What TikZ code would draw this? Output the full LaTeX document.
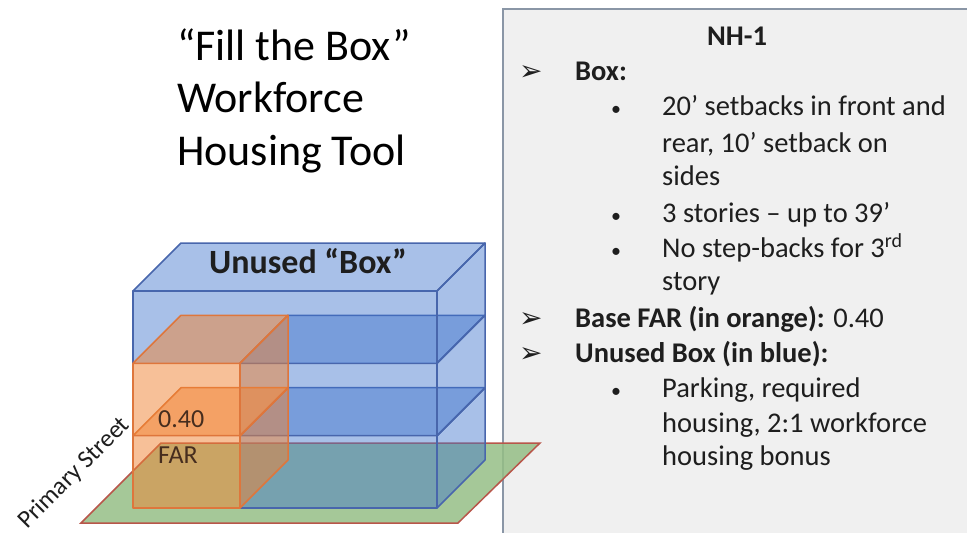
\documentclass[tikz,border=0pt]{standalone}
\usepackage{fontspec}
\setmainfont{Carlito}
\newfontfamily\arrowfont{DejaVu Sans}

\definecolor{boxblue}{RGB}{62,115,204}
\definecolor{boxblueline}{RGB}{72,102,172}
\definecolor{farorange}{RGB}{240,130,50}
\definecolor{faroline}{RGB}{222,118,60}
\definecolor{lotgreen}{RGB}{149,190,134}
\definecolor{lotline}{RGB}{184,86,74}
\definecolor{panelgrey}{RGB}{240,240,240}
\definecolor{panelline}{RGB}{138,150,166}
\definecolor{inkgrey}{RGB}{30,30,30}
\definecolor{farink}{RGB}{70,45,30}

% один этаж: x слева, x справа, низ, верх, стиль
\newcommand{\floorbox}[5]{%
  \draw[#5] (#1,#3) rectangle (#2,#4);
  \draw[#5] (#1,#4) -- ++(48,-48) -- ++(#2-#1,0) -- (#2,#4) -- cycle;
  \draw[#5] (#2,#4) -- ++(48,-48) -- ++(0,#3-#4) -- (#2,#3) -- cycle;
}

\begin{document}
\begin{tikzpicture}[x=1pt,y=-1pt,
    bluebox/.style={fill=boxblue, fill opacity=0.45, draw=boxblueline, line width=1.5pt, line join=round},
    farbox/.style={fill=farorange, fill opacity=0.5, draw=faroline, line width=1.5pt, line join=round},
    lot/.style={fill=lotgreen, fill opacity=0.85, draw=lotline, line width=1.5pt},
    title/.style={font=\fontsize{44}{53}\selectfont, text=black, inner sep=0pt, anchor=base west},
    panel/.style={font=\fontsize{28.5}{33}\selectfont, text=inkgrey, inner sep=0pt, anchor=base west},
    panelbold/.style={panel, font=\bfseries\fontsize{28.5}{33}\selectfont},
    dot/.style={font=\fontsize{20}{24}\selectfont, text=inkgrey, inner sep=0pt, anchor=base west},
    pointer/.style={font=\arrowfont\fontsize{28}{32}\selectfont, text=inkgrey, inner sep=0pt, anchor=base west},
    farlabel/.style={font=\fontsize{26}{30}\selectfont, text=farink, inner sep=0pt, anchor=base west}]

    \useasboundingbox (0,0) rectangle (967,533);

    % Заголовок
    \node[title] (title1) at (177,60) {“Fill the Box”};
    \node[title] (title2) at (177,112) {Workforce};
    \node[title] (title3) at (177,165) {Housing Tool};

    % Панель справа
    \filldraw[fill=panelgrey, draw=panelline, line width=1.5pt] (503,9) rectangle (980,545);

    % Участок и объём
    \filldraw[lot] (81,523) -- (458,523) -- (540,443) -- (161,443) -- cycle;
    \floorbox{240}{437}{508}{435.7}{bluebox}
    \floorbox{240}{437}{435.7}{363.3}{bluebox}
    \floorbox{133}{437}{363.3}{291}{bluebox}
    \floorbox{133}{240}{508}{435.7}{farbox}
    \floorbox{133}{240}{435.7}{363.3}{farbox}

    \node[font=\bfseries\fontsize{34}{38}\selectfont, text=inkgrey, inner sep=0pt, anchor=base] (unused) at (308,273) {Unused “Box”};
    \node[farlabel] (farvalue) at (158,427) {0.40};
    \node[farlabel] (farname) at (158,463) {FAR};
    \node[font=\fontsize{25}{29}\selectfont, text=inkgrey, inner sep=0pt, anchor=base west, rotate=45] (street) at (27,530) {Primary Street};

    % Текст панели
    \node[panelbold, anchor=base] (nh) at (737,45) {NH-1};
    \node[pointer] (ptr1) at (519,80) {➢};
    \node[panelbold] (boxhead) at (575,80) {Box:};
    \node[dot] (dot1) at (611,115) {•};
    \node[panel] (line1) at (662,115) {20’ setbacks in front and};
    \node[panel] (line2) at (662,152) {rear, 10’ setback on};
    \node[panel] (line3) at (662,185) {sides};
    \node[dot] (dot2) at (611,222) {•};
    \node[panel] (line4) at (662,222) {3 stories – up to 39’};
    \node[dot] (dot3) at (611,257) {•};
    \node[panel] (line5) at (662,257) {No step-backs for 3\textsuperscript{rd}};
    \node[panel] (line6) at (662,290) {story};
    \node[pointer] (ptr2) at (519,327) {➢};
    \node[panel] (farhead) at (575,327) {\textbf{Base FAR (in orange):} 0.40};
    \node[pointer] (ptr3) at (519,362) {➢};
    \node[panelbold] (unusedhead) at (575,362) {Unused Box (in blue):};
    \node[dot] (dot4) at (611,397) {•};
    \node[panel] (line7) at (662,397) {Parking, required};
    \node[panel] (line8) at (662,432) {housing, 2:1 workforce};
    \node[panel] (line9) at (662,465) {housing bonus};

\end{tikzpicture}
\end{document}
